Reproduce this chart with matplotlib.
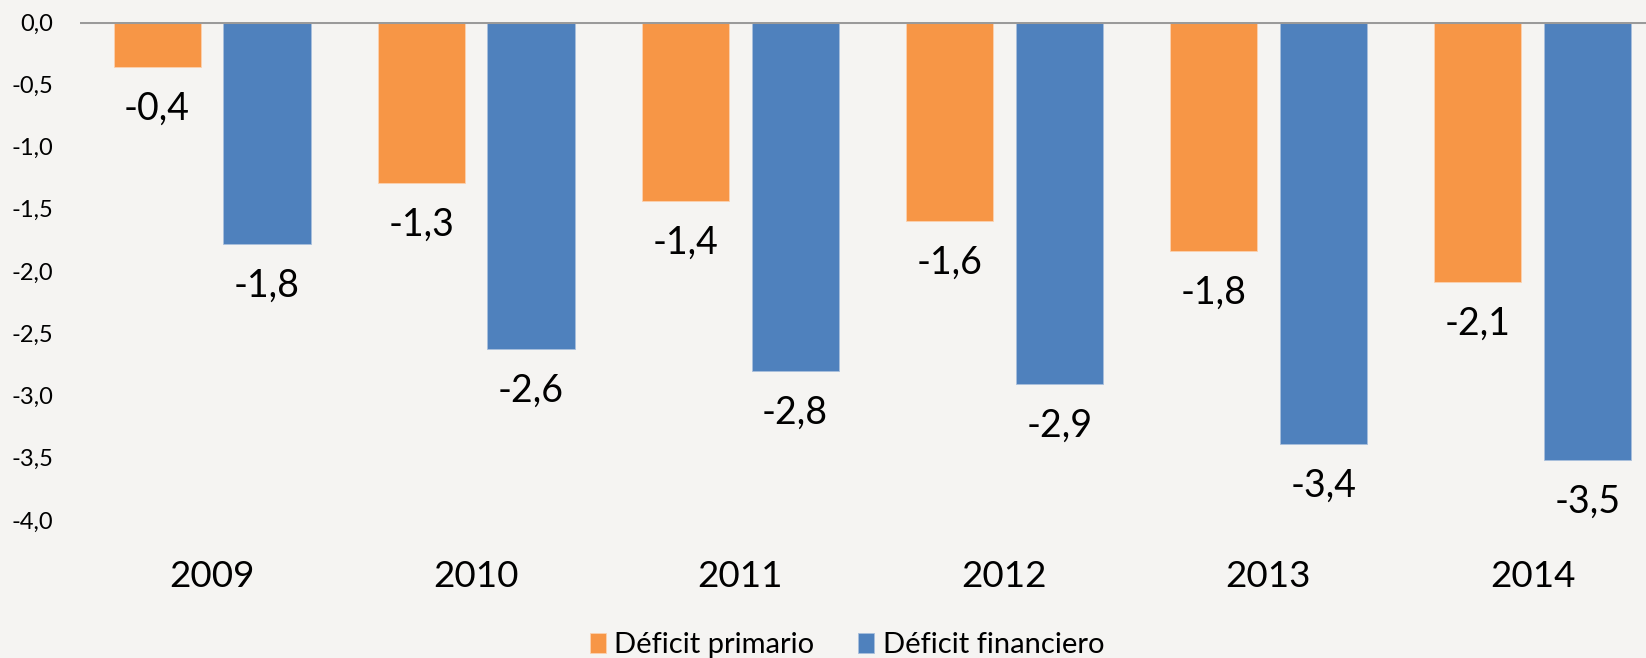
import matplotlib.pyplot as plt
import numpy as np

# Datos
anios            = ["2009", "2010", "2011", "2012", "2013", "2014"]
deficit_primario = [-0.36, -1.29, -1.44, -1.60, -1.84, -2.09]
deficit_financ   = [-1.78, -2.63, -2.80, -2.91, -3.39, -3.52]
yticks           = [0.0, -0.5, -1.0, -1.5, -2.0, -2.5, -3.0, -3.5, -4.0]

plt.rcParams["font.family"] = ["Lato", "DejaVu Sans"]

naranja = "#F79646"
azul    = "#4F81BD"
fondo   = "#F5F4F2"

W, H = 1646, 658
fig = plt.figure(figsize=(W / 100, H / 100), dpi=100, facecolor=fondo)
ax  = fig.add_axes([80 / W, 1 - 520 / H, 1 - 80 / W, 498 / H])
ax.set_facecolor("none")

x      = np.arange(len(anios))
ancho  = 0.33
offset = 0.208

b1 = ax.bar(x - offset, deficit_primario, ancho, color=naranja,
            edgecolor="#fbd2b0", linewidth=0.6, label="Déficit primario", zorder=2)
b2 = ax.bar(x + offset, deficit_financ, ancho, color=azul,
            edgecolor="#a9bfdc", linewidth=0.6, label="Déficit financiero", zorder=2)

# Etiquetas de valores
for xs, vals in ((x - offset, deficit_primario), (x + offset, deficit_financ)):
    for xi, v in zip(xs, vals):
        txt = f"{v:.1f}".replace(".", ",")
        ax.annotate(txt, (xi, v), xytext=(0, -30), textcoords="offset points",
                    ha="center", va="center", fontsize=27, color="black")

ax.axhline(0, color="#9a9a9a", linewidth=2.2, zorder=3)

ax.set_xlim(-0.5, 5.43)
ax.set_ylim(-4.0, 0.0)
ax.set_yticks(yticks)
ax.set_yticklabels([f"{t:.1f}".replace(".", ",") for t in yticks], fontsize=17)
ax.set_xticks(x)
ax.set_xticklabels(anios, fontsize=26.5)
ax.tick_params(axis="y", length=0, pad=19)
ax.tick_params(axis="x", length=0, pad=29)
for s in ax.spines.values():
    s.set_visible(False)

fig.legend(handles=[b1, b2], loc="lower center", bbox_to_anchor=(847 / W, -0.04),
           ncol=2, frameon=False, fontsize=21, handlelength=0.55, handleheight=0.65,
           handletextpad=0.3, columnspacing=1.5)

fig.savefig("out.png", dpi=100, facecolor=fondo)
